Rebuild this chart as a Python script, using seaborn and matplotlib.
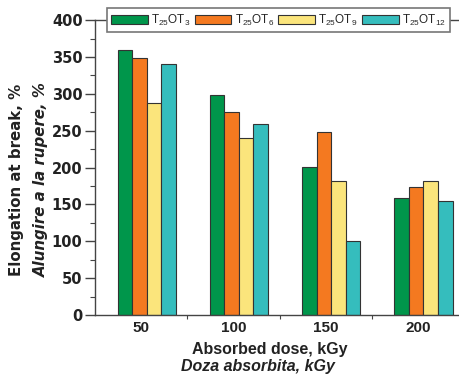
import matplotlib
matplotlib.use("Agg")
import matplotlib.pyplot as plt
import numpy as np
import pandas as pd
import seaborn as sns

# ---------------------------------------------------------------------------
# Données
# ---------------------------------------------------------------------------
doses = ["50", "100", "150", "200"]
samples = ["T$_{25}$OT$_{3}$", "T$_{25}$OT$_{6}$", "T$_{25}$OT$_{9}$", "T$_{25}$OT$_{12}$"]
elong_ot3 = [360, 299, 201, 159]
elong_ot6 = [349, 275, 248, 174]
elong_ot9 = [287, 240, 182, 182]
elong_ot12 = [341, 259, 100, 155]
y_ticks = [0, 50, 100, 150, 200, 250, 300, 350, 400]

couleurs = ["#00964B", "#F47920", "#FBE57C", "#35BDBD"]

sns.set_theme(style="white")
plt.rcParams.update({
    "font.family": ["Liberation Sans", "DejaVu Sans"],
    "mathtext.default": "regular",
    "figure.facecolor": "white",
})

df = pd.DataFrame({
    "dose": doses * 4,
    "sample": np.repeat(samples, len(doses)),
    "elong": elong_ot3 + elong_ot6 + elong_ot9 + elong_ot12,
})

fig = plt.figure(figsize=(4.59, 3.79), dpi=100)
ax = fig.add_axes([0.207, 0.169, 0.80, 0.778])

sns.barplot(data=df, x="dose", y="elong", hue="sample", hue_order=samples,
            order=doses, palette=couleurs, width=0.63, gap=0,
            edgecolor="#333333", linewidth=0.8, saturation=1, ax=ax)

ax.set_xlim(-0.56, 3.42)
ax.set_ylim(0, 400)
ax.set_yticks(y_ticks)
ax.set_yticks(np.arange(25, 400, 50), minor=True)
ax.set_xticks(np.arange(4) - 0.06)
ax.set_xticklabels(doses)
ax.set_xticks(np.arange(0.5, 3, 1) - 0.06, minor=True)

for s in ["left", "bottom", "top"]:
    ax.spines[s].set_color("#444444")
    ax.spines[s].set_linewidth(1.0)
ax.spines["right"].set_visible(False)

ax.tick_params(axis="y", which="major", direction="out", length=7, width=1,
               color="#444444", labelsize=10.5, left=True, pad=2)
ax.tick_params(axis="y", which="minor", direction="out", length=3.5, width=0.8,
               color="#444444", left=True)
ax.tick_params(axis="x", which="major", length=0, labelsize=11, pad=4)
ax.tick_params(axis="x", which="minor", direction="out", length=3, width=0.8,
               color="#444444", bottom=True)
for lab in ax.get_xticklabels():
    lab.set_fontweight("bold")
    lab.set_color("#222222")
for lab in ax.get_yticklabels():
    lab.set_fontweight("bold")
    lab.set_family("DejaVu Sans")
    lab.set_fontsize(10.5)
    lab.set_color("#222222")

ax.set_xlabel("")
ax.set_ylabel("")
fig.text(0.588, 0.077, "Absorbed dose, kGy", ha="center", va="center",
         fontsize=11.5, fontweight="bold", color="#222222")
fig.text(0.562, 0.032, "Doza absorbita, kGy", ha="center", va="center",
         fontsize=11.5, fontweight="bold", style="italic", color="#222222")
fig.text(0.035, 0.525, "Elongation at break, %", ha="center", va="center",
         rotation=90, fontsize=10.8, fontweight="bold", color="#222222",
         family="DejaVu Sans")
fig.text(0.09, 0.525, "Alungire a la rupere, %", ha="center", va="center",
         rotation=90, fontsize=10.8, fontweight="bold", style="italic",
         color="#222222", family="DejaVu Sans")

leg = ax.legend(loc="center", bbox_to_anchor=(0.5, 1.0), ncol=4,
                fontsize=8.5, frameon=True, fancybox=False, edgecolor="#777777",
                framealpha=1, handlelength=3.1, handleheight=0.8,
                handletextpad=0.3, columnspacing=0.35, borderpad=0.35,
                borderaxespad=0)
leg.get_frame().set_linewidth(1.2)

fig.savefig("out.png", dpi=100)
